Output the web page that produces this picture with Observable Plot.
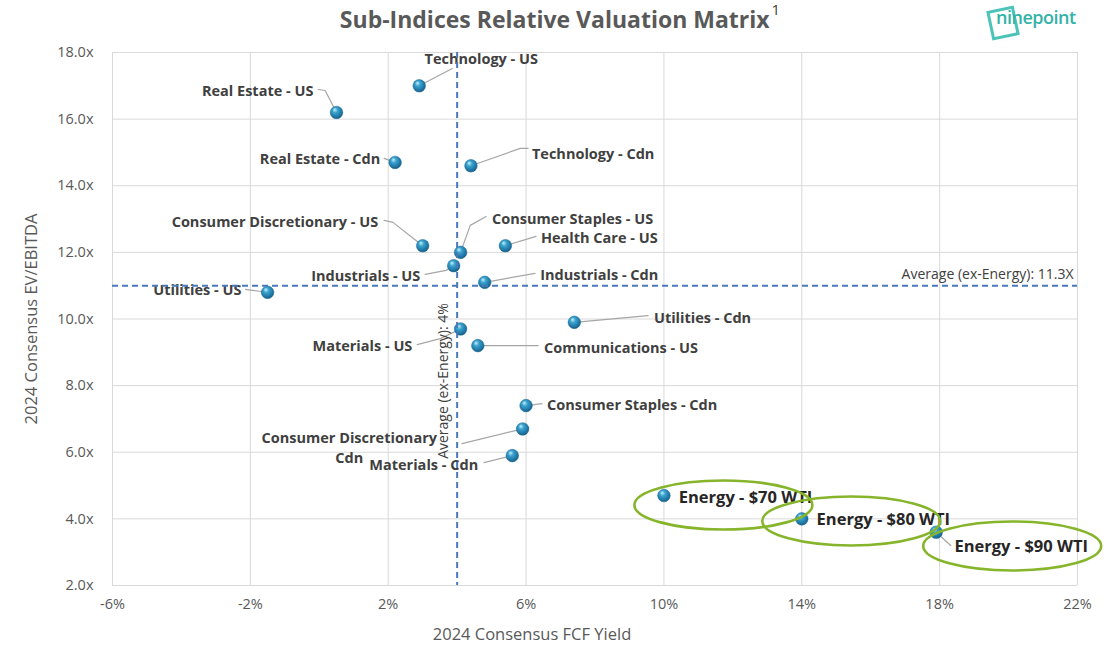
<!DOCTYPE html>
<html><head><meta charset="utf-8">
<script src="https://cdn.jsdelivr.net/npm/d3@7"></script>
<script src="https://cdn.jsdelivr.net/npm/@observablehq/plot@0.6"></script>
<style>
body{margin:0;background:#fff;font-family:"Open Sans",sans-serif;}
#wrap{position:relative;width:1110px;height:645px;overflow:hidden;background:#fff}
#title{position:absolute;left:0;width:1120px;top:3px;text-align:center;font:700 23px "Open Sans",sans-serif;color:#595959;z-index:2}
#title sup{font-weight:400;font-size:15px;vertical-align:top;position:relative;top:-4px;margin-left:2px;color:#404040}
#logo{position:absolute;left:984px;top:2px;width:110px;height:40px;z-index:2}
#logo .box{position:absolute;left:5px;top:6px;width:22px;height:24px;border:3px solid #4cc3b8;transform:rotate(-12deg)}
#logo .txt{position:absolute;left:12px;top:3px;font:600 18px "Open Sans",sans-serif;color:#33b2a8;letter-spacing:-0.5px}
#chart{position:absolute;left:0;top:0}
</style></head><body>
<div id="wrap">
<div id="chart"></div>
<div id="title">Sub-Indices Relative Valuation Matrix<sup>1</sup></div>
<div id="logo"><div class="box"></div><span class="txt">ninepoint</span></div>
</div>
<script>
// ---- data ----
const sectors = ["Technology - US","Real Estate - US","Real Estate - Cdn","Technology - Cdn","Consumer Discretionary - US","Consumer Staples - US","Health Care - US","Industrials - US","Industrials - Cdn","Utilities - US","Utilities - Cdn","Materials - US","Communications - US","Consumer Staples - Cdn","Consumer Discretionary\nCdn","Materials - Cdn","Energy - $70 WTI","Energy - $80 WTI","Energy - $90 WTI"];
const fcfYield = [2.9,0.5,2.2,4.4,3.0,4.1,5.4,3.9,4.8,-1.5,7.4,4.1,4.6,6.0,5.9,5.6,10.0,14.0,17.9];
const evEbitda = [17.0,16.2,14.7,14.6,12.2,12.0,12.2,11.6,11.1,10.8,9.9,9.7,9.2,7.4,6.7,5.9,4.7,4.0,3.6];
const isEnergy = [false,false,false,false,false,false,false,false,false,false,false,false,false,false,false,false,true,true,true];

// label anchor points (data units)
const labelX = [4.70,-0.17,1.77,6.17,1.71,5.01,6.43,2.93,6.41,-2.26,9.71,2.70,6.52,6.61,0.87,4.61,10.43,14.43,18.43];
const labelY = [17.85,16.89,14.85,15.0,12.96,13.05,12.48,11.34,11.37,10.92,10.08,9.23,9.17,7.46,6.17,5.66,4.64,3.98,3.17];
const labelAnchor = ["middle","end","end","start","end","start","start","end","start","end","start","end","start","start","middle","end","start","start","start"];
// leader-line bend points (data units), from label side toward the dot
const leaderPts = [
  [[3.86,17.52]],
  [[-0.03,16.89],[0.17,16.86]],
  [[1.88,14.82]],
  [[6.06,15.12],[5.83,15.12]],
  [[1.88,12.96],[2.14,12.9]],
  [[4.84,13.08],[4.38,12.81]],
  [[6.29,12.48]],
  [[3.07,11.34],[3.68,11.46]],
  [[6.26,11.37]],
  [[-2.14,10.89]],
  [[9.54,10.1]],
  [[2.84,9.23],[3.51,9.41]],
  [[6.35,9.2]],
  [[6.46,7.46]],
  [[4.14,6.26]],
  [[4.78,5.69]],
  [],[],
  [[18.32,3.2]]
];
// energy highlight ellipse centres (data units)
const ellipseX = [11.74,15.45,20.12];
const ellipseY = [4.40,3.92,3.17];

const xTicks = [-6,-2,2,6,10,14,18,22];
const yTicks = [2,4,6,8,10,12,14,16,18];
const avgFCF = 4;        // drawn position of vertical average
const avgEV = 11.0;      // drawn position of horizontal average
const avgFCFLabel = "Average (ex-Energy): 4%";
const avgEVLabel = "Average (ex-Energy): 11.3X";
const xTitle = "2024 Consensus FCF Yield";
const yTitle = "2024 Consensus EV/EBITDA";

// ---- build tables ----
const points = sectors.map((s,i)=>({name:s, x:fcfYield[i], y:evEbitda[i], lx:labelX[i], ly:labelY[i], anchor:labelAnchor[i], energy:isEnergy[i]}));
const leaders = [];
points.forEach((p,i)=>{
  if (!leaderPts[i].length) return;
  leaderPts[i].forEach(([x,y])=>leaders.push({id:i,x,y}));
  leaders.push({id:i,x:p.x,y:p.y});
});
const ellipses = ellipseX.map((x,i)=>({x, y:ellipseY[i]}));

function defsMark(){
  const g = d3.create("svg:g");
  const grad = g.append("defs").append("radialGradient").attr("id","ball")
    .attr("cx","45%").attr("cy","40%").attr("r","60%").attr("fx","35%").attr("fy","28%");
  grad.append("stop").attr("offset","0%").attr("stop-color","#c9f0fb");
  grad.append("stop").attr("offset","35%").attr("stop-color","#3aa3cf");
  grad.append("stop").attr("offset","80%").attr("stop-color","#1f75a3");
  grad.append("stop").attr("offset","100%").attr("stop-color","#175d85");
  return g.node();
}
function ellipseMark(index, scales){
  const g = d3.create("svg:g");
  ellipses.forEach(e=>{
    g.append("ellipse").attr("cx",scales.x(e.x)).attr("cy",scales.y(e.y))
      .attr("rx",89).attr("ry",24.5).attr("fill","none")
      .attr("stroke","#86b52c").attr("stroke-width",2.6);
  });
  return g.node();
}

const normal = points.filter(d=>!d.energy);
const energy = points.filter(d=>d.energy);
const labelStyle = {x:"lx", y:"ly", text:"name", fontSize:14.5, fontWeight:700, fill:"#404040", lineHeight:1.38};

const chart = Plot.plot({
  width:1110, height:645,
  marginLeft:112, marginRight:33, marginTop:52, marginBottom:60,
  style:{fontFamily:"'Open Sans', sans-serif", background:"transparent", overflow:"visible"},
  x:{domain:[-6,22]},
  y:{domain:[2,18]},
  marks:[
    defsMark,
    Plot.gridX(xTicks,{stroke:"#d9d9d9", strokeOpacity:1}),
    Plot.gridY(yTicks,{stroke:"#d9d9d9", strokeOpacity:1}),
    Plot.axisX(xTicks,{tickSize:0, tickPadding:13, fontSize:14.5, fill:"#595959", label:null, tickFormat:d=>d+"%"}),
    Plot.axisY(yTicks,{tickSize:0, tickPadding:19, fontSize:14.5, fill:"#595959", label:null, tickFormat:d=>d.toFixed(1)+"x"}),
    Plot.text([xTitle],{frameAnchor:"bottom", text:d=>d, textAnchor:"middle", lineAnchor:"middle", dx:-63, dy:49, fontSize:16.5, fill:"#595959"}),
    Plot.text([yTitle],{frameAnchor:"left", text:d=>d, textAnchor:"middle", lineAnchor:"middle", rotate:-90, dx:-81, fontSize:16.5, fill:"#595959"}),
    Plot.line(leaders,{x:"x", y:"y", z:"id", stroke:"#a6a6a6", strokeWidth:1.2}),
    Plot.text(normal.filter(d=>d.anchor==="start"),{...labelStyle, textAnchor:"start"}),
    Plot.text(normal.filter(d=>d.anchor==="end"),{...labelStyle, textAnchor:"end"}),
    Plot.text(normal.filter(d=>d.anchor==="middle"),{...labelStyle, textAnchor:"middle"}),
    Plot.text(energy,{x:"lx", y:"ly", text:"name", textAnchor:"start", fontSize:16.5, fontWeight:700, fill:"#262626"}),
    Plot.dot(points,{x:"x", y:"y", r:6.3, fill:"url(#ball)", stroke:"#1a6a96", strokeWidth:0.5}),
    Plot.ruleY([avgEV],{stroke:"#4a79b9", strokeWidth:2, strokeDasharray:"6,4"}),
    Plot.ruleX([avgFCF],{stroke:"#4a79b9", strokeWidth:2, strokeDasharray:"6,4"}),
    Plot.text([avgEV],{y:d=>d, frameAnchor:"right", text:()=>avgEVLabel, textAnchor:"end", dx:-4, dy:-11, fontSize:14, fill:"#404040"}),
    Plot.text([avgFCF],{x:d=>d, frameAnchor:"middle", text:()=>avgFCFLabel, textAnchor:"middle", rotate:-90, dx:-14, dy:62, fontSize:14, fill:"#404040"}),
    ellipseMark
  ]
});
document.getElementById("chart").appendChild(chart);
</script>
</body></html>
